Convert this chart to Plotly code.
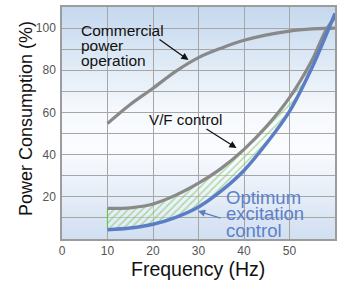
import plotly.graph_objects as go

# ---- data ----
freq = [10, 15, 20, 25, 30, 35, 40, 45, 50, 55, 58, 60]
commercial = [54.8, 63.8, 71.5, 79.5, 86.0, 90.5, 94.2, 96.8, 98.6, 99.6, 99.9, 100.0]
vf_control = [14.5, 14.8, 16.6, 20.8, 26.5, 33.5, 42.5, 53.5, 67.0, 85.0, 99.0, 105.0]
optimum = [4.4, 5.2, 7.0, 10.3, 15.2, 22.8, 32.5, 45.5, 60.5, 81.5, 96.5, 107.0]
x_ticks = [0, 10, 20, 30, 40, 50, 60]
y_ticks = [20, 40, 60, 80, 100]

# ---- geometry helpers (pixel -> paper) ----
W, H = 338, 282
L, R, T, B = 62, 335, 7, 239


def px(x):
    return (x - L) / (R - L)


def py(y):
    return (B - y) / (B - T)


FONT = "Liberation Sans, Arial, sans-serif"
GRAY = "#898989"
BLUE = "#5a7dc6"
BLUE_TXT = "#5d80c8"
GREEN = "#6cc04c"

fig = go.Figure()

# hatched region between V/F and optimum
n_fill = len(freq) - 1
fig.add_trace(go.Scatter(x=freq[:n_fill], y=optimum[:n_fill], mode="lines",
                         line=dict(width=0, shape="spline", color=GREEN),
                         showlegend=False, hoverinfo="skip"))
fig.add_trace(go.Scatter(x=freq[:n_fill], y=vf_control[:n_fill], mode="lines",
                         line=dict(width=0, shape="spline", color=GREEN),
                         fill="tonexty", fillcolor="rgba(0,0,0,0)",
                         fillpattern=dict(shape="/", fgcolor=GREEN, bgcolor="rgba(255,255,255,0.3)",
                                          size=5, solidity=0.3),
                         showlegend=False, hoverinfo="skip"))
# green left edge of the hatched area
fig.add_trace(go.Scatter(x=[freq[0], freq[0]], y=[optimum[0], vf_control[0]], mode="lines",
                         line=dict(width=1.2, color=GREEN), showlegend=False, hoverinfo="skip"))

# curves
fig.add_trace(go.Scatter(x=freq, y=commercial, mode="lines",
                         line=dict(width=3.2, color=GRAY, shape="spline"), showlegend=False))
fig.add_trace(go.Scatter(x=freq, y=vf_control, mode="lines",
                         line=dict(width=3.2, color=GRAY, shape="spline"), showlegend=False))
fig.add_trace(go.Scatter(x=freq, y=optimum, mode="lines",
                         line=dict(width=3.5, color=BLUE, shape="spline"), showlegend=False))

# background gradient (plot area)
stops = [(0.0, (196, 216, 238)), (0.45, (246, 249, 253)), (0.62, (250, 252, 255)), (1.0, (209, 223, 241))]


def col(t):
    for (t0, c0), (t1, c1) in zip(stops[:-1], stops[1:]):
        if t0 <= t <= t1:
            f = (t - t0) / (t1 - t0) if t1 > t0 else 0
            return "rgb(%d,%d,%d)" % tuple(round(a + (b - a) * f) for a, b in zip(c0, c1))
    return "rgb(%d,%d,%d)" % stops[-1][1]


shapes = []
NB = 58
for i in range(NB):
    t = (i + 0.5) / NB
    shapes.append(dict(type="rect", xref="paper", yref="paper",
                       x0=0, x1=1, y0=1 - (i + 1) / NB, y1=1 - i / NB + 0.002,
                       fillcolor=col(t), line=dict(width=0), layer="below"))

annotations = []


def text(s, left, mid, size, color="#111111"):
    annotations.append(dict(text=s, x=px(left), y=py(mid), xref="paper", yref="paper",
                            xanchor="left", yanchor="middle", showarrow=False,
                            font=dict(family=FONT, size=size, color=color)))


def arrow(tail, head, color):
    annotations.append(dict(text="", x=px(head[0]), y=py(head[1]), xref="paper", yref="paper",
                            ax=tail[0] - head[0], ay=tail[1] - head[1],
                            showarrow=True, arrowhead=2, arrowsize=1.1, arrowwidth=1.3,
                            arrowcolor=color, standoff=0, startstandoff=0))


text("Commercial", 79, 30, 15.5)
text("power", 79, 45.5, 15.5)
text("operation", 79, 61, 15.5)
text("V/F control", 146.5, 120, 15.2)
text("Optimum", 224, 197, 18.5, BLUE_TXT)
text("excitation", 224, 213.5, 18.5, BLUE_TXT)
text("control", 224, 230, 18.5, BLUE_TXT)

arrow((158, 38.5), (188.5, 60), "#111111")
arrow((205, 128), (236.5, 148), "#111111")
arrow((222, 218.5), (198, 211), BLUE)

# axis titles
annotations.append(dict(text="Power Consumption (%)", x=(26 - L) / (R - L), y=py(119), xref="paper", yref="paper",
                        xanchor="center", yanchor="middle", textangle=-90, showarrow=False,
                        font=dict(family=FONT, size=18, color="#111111")))
annotations.append(dict(text="Frequency (Hz)", x=px(198), y=py(269), xref="paper", yref="paper",
                        xanchor="center", yanchor="middle", showarrow=False,
                        font=dict(family=FONT, size=19.5, color="#111111")))

axis_common = dict(showline=True, mirror=True, linecolor="#9c9c9c", linewidth=1.5,
                   showgrid=True, gridcolor="#a6a6a6", gridwidth=1.2, zeroline=False,
                   automargin=False,
                   ticks="", tickfont=dict(family=FONT, size=12, color="#555555"))

fig.update_layout(
    width=W, height=H,
    margin=dict(l=L, r=W - R, t=T, b=H - B, autoexpand=False),
    paper_bgcolor="white", plot_bgcolor="rgba(0,0,0,0)",
    xaxis=dict(range=[0, 60], tickvals=x_ticks, **axis_common),
    yaxis=dict(range=[0, 110], tickvals=y_ticks, ticklabelstandoff=2,
               minor=dict(dtick=10, tick0=0, showgrid=True, gridcolor="#a6a6a6", gridwidth=1.2, ticks=""),
               **axis_common),
    shapes=shapes, annotations=annotations, showlegend=False,
)

fig.write_html("out.html", config={"displayModeBar": False},
               post_script="document.body.style.margin='0';document.body.style.padding='0';"
                           "document.documentElement.style.overflow='hidden';")
